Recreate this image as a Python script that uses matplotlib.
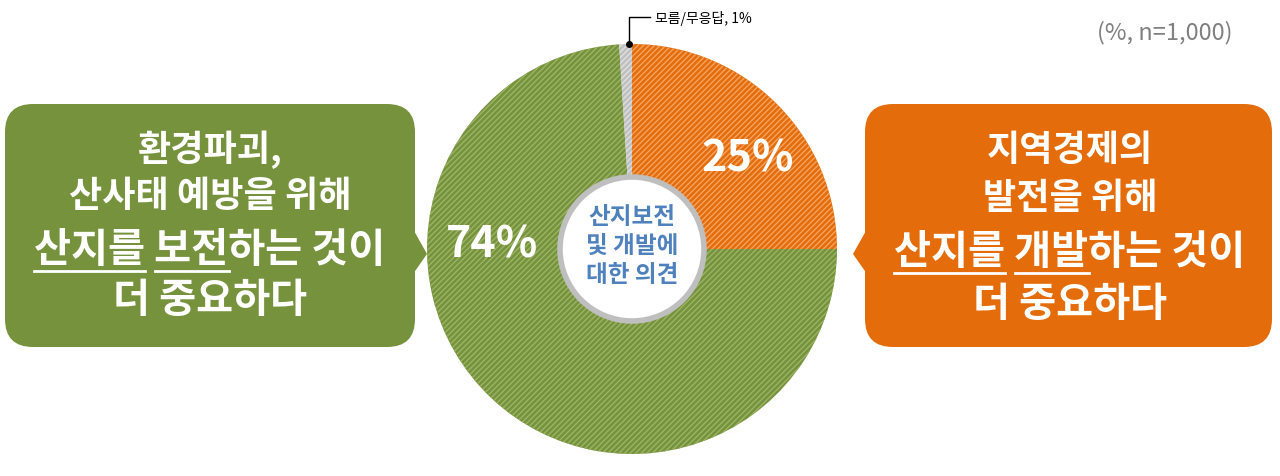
import matplotlib
matplotlib.use("Agg")
import matplotlib.pyplot as plt
from matplotlib.patches import FancyBboxPatch, Polygon, Circle

plt.rcParams['font.family'] = ['Noto Sans CJK KR', 'DejaVu Sans']
plt.rcParams['hatch.linewidth'] = 1.0

labels = ['산지 개발', '산지 보전', '모름/무응답']
values = [25, 74, 1]
colors = ['#E46C0A', '#76923C', '#BFBFBF']
hatch_colors = ['#F4A460', '#9BB565', '#E0E0E0']
left_lines = ['환경파괴,', '산사태 예방을 위해', '산지를 보전하는 것이', '더 중요하다']
right_lines = ['지역경제의', '발전을 위해', '산지를 개발하는 것이', '더 중요하다']

fig = plt.figure(figsize=(12.8, 4.77), dpi=100)
ax = fig.add_axes([0, 0, 1, 1])

def Y(y):
    return 477 - y

cx, cy, R = 632, Y(250), 205
wedges, _ = ax.pie(values, colors=colors, startangle=90, counterclock=False,
                   center=(cx, cy), radius=R, frame=True,
                   wedgeprops=dict(linewidth=1, edgecolor='white'))
for w, hc in zip(wedges, hatch_colors):
    w.set_hatch('//////')
    w.set_edgecolor(hc)
    w.set_linewidth(0)
ax.add_patch(Circle((cx, cy), 72, facecolor='white', edgecolor='#BFBFBF', lw=4, zorder=5))
ax.set_xlim(0, 1280)
ax.set_ylim(0, 477)
ax.set_aspect('equal')
ax.axis('off')

ax.text(748, Y(158), f'{values[0]}%', color='white', fontsize=31, fontweight='bold', ha='center', va='center', zorder=6)
ax.text(492, Y(245), f'{values[1]}%', color='white', fontsize=31, fontweight='bold', ha='center', va='center', zorder=6)
ax.text(cx, Y(246), '산지보전\n및 개발에\n대한 의견', color='#4F81BD', fontsize=17, fontweight='bold',
        ha='center', va='center', linespacing=1.25, zorder=6)

ax.plot([629, 629, 650], [Y(45), Y(18), Y(18)], color='black', lw=1, zorder=7)
ax.plot([629], [Y(45)], 'o', color='black', ms=4, zorder=7)
ax.text(655, Y(18), f'모름/무응답, {values[2]}%', fontsize=10, va='center', ha='left')
ax.text(1165, Y(33), '(%, n=1,000)', fontsize=17, color='#808080', va='center', ha='center')

def box(x0, x1, color, side):
    ax.add_patch(FancyBboxPatch((x0, Y(348)), x1 - x0, 243, boxstyle='round,pad=0,rounding_size=28',
                                facecolor=color, edgecolor='none', zorder=3))
    if side == 'right':
        ax.add_patch(Polygon([[x1 - 2, Y(230)], [x1 + 12, Y(255)], [x1 - 2, Y(275)]], closed=True,
                             facecolor=color, edgecolor='none', zorder=3))
    else:
        ax.add_patch(Polygon([[x0 + 2, Y(230)], [x0 - 12, Y(255)], [x0 + 2, Y(275)]], closed=True,
                             facecolor=color, edgecolor='none', zorder=3))

box(5, 415, colors[1], 'right')
box(865, 1272, colors[0], 'left')

fig.canvas.draw()
renderer = fig.canvas.get_renderer()

def width(s, fs):
    t = ax.text(0, 0, s, fontsize=fs, fontweight='bold')
    w = t.get_window_extent(renderer).width
    t.remove()
    return w

for xc, lines, ys, word in [(210, left_lines, [150, 196, 250, 300], '보전'),
                            (1070, right_lines, [150, 198, 252, 304], '개발')]:
    for t, y in zip(lines, ys):
        fs = 29 if ('산지를' in t or '중요' in t) else 26
        ax.text(xc, Y(y), t, color='white', fontsize=fs, fontweight='bold', ha='center', va='center', zorder=6)
        if '산지를' in t:
            total = width(t, fs)
            x0 = xc - total / 2
            a = width('산지를', fs)
            b0 = width('산지를 ', fs)
            b1 = width('산지를 ' + word, fs)
            uy = Y(y + 22)
            ax.plot([x0, x0 + a], [uy, uy], color='white', lw=2, zorder=6)
            ax.plot([x0 + b0, x0 + b1], [uy, uy], color='white', lw=2, zorder=6)

fig.savefig('out.png', dpi=100)
